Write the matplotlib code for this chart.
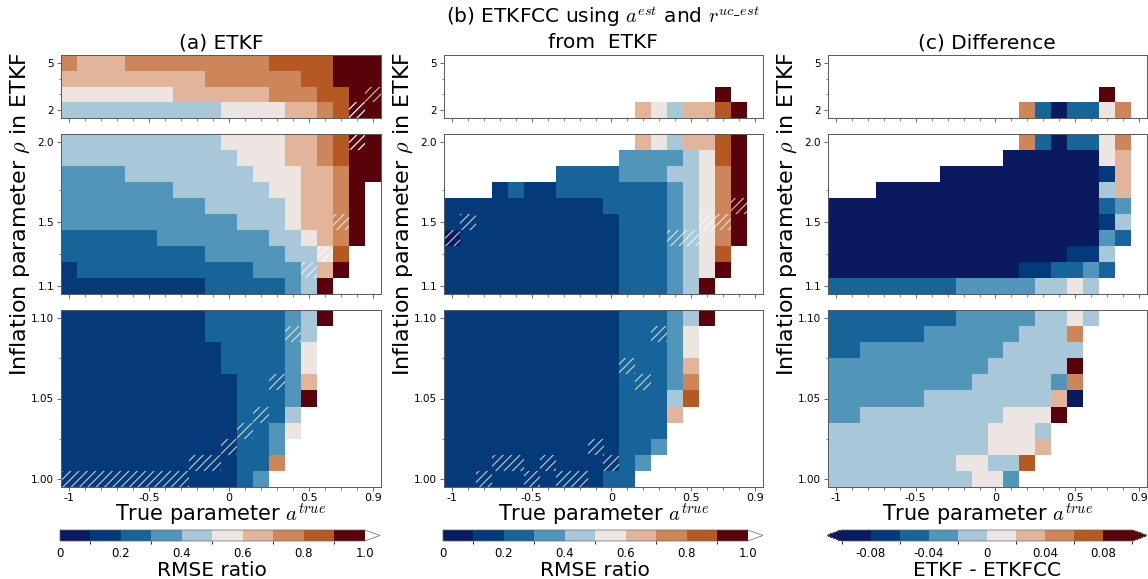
import numpy as np
import matplotlib
matplotlib.use("Agg")
import matplotlib.pyplot as plt
from matplotlib.colors import ListedColormap, BoundaryNorm
from matplotlib.patches import Rectangle

plt.rcParams["mathtext.fontset"] = "cm"
plt.rcParams["hatch.linewidth"] = 0.8
plt.rcParams["font.size"] = 7.5

# grid of the experiments
a_true = [-1.0, -0.9, -0.8, -0.7, -0.6, -0.5, -0.4, -0.3, -0.2, -0.1,
          0.0, 0.1, 0.2, 0.3, 0.4, 0.5, 0.6, 0.7, 0.8, 0.9]
rho_top = [2, 3, 4, 5]
rho_mid = [1.1, 1.2, 1.3, 1.4, 1.5, 1.6, 1.7, 1.8, 1.9, 2.0]
rho_bot = [1.00, 1.01, 1.02, 1.03, 1.04, 1.05, 1.06, 1.07, 1.08, 1.09, 1.10]

# one character per a_true: colour class of the cell, "." = no value
# rows are listed from the largest rho down
ratio_centres = [0.05, 0.15, 0.25, 0.35, 0.45, 0.55, 0.65, 0.75, 0.85, 0.95]
diff_centres = [-0.09, -0.07, -0.05, -0.03, -0.01, 0.01, 0.03, 0.05, 0.07, 0.09]

etkf_top = [
    "76667777777778888999",
    "66666666677777788999",
    "55555556666667778899",
    "44444444445555667899",
]
etkf_mid = [
    "44444444445555667899",
    "44444444444555667899",
    "33334444444455566799",
    "3333333444444556679.",
    "3333333334444456679.",
    "3333333333344456679.",
    "2222223333333445679.",
    "222222222333334458..",
    "122222222222333469..",
    "11111111122222349...",
]
etkf_bot = [
    "11111111122222349...",
    "1111111112222234....",
    "1111111111222235....",
    "1111111111222235....",
    "1111111111122236....",
    "1111111111122239....",
    "111111111112224.....",
    "111111111112235.....",
    "11111111111223......",
    "11111111111227......",
    "1111111111123.......",
]

etkfcc_top = [
    "....................",
    "....................",
    ".................9..",
    "............6546689.",
]
etkfcc_mid = [
    "............6546689.",
    "...........33334589.",
    ".......222233344579.",
    "...1211222222234579.",
    "1111111111222234579.",
    "1111111111122234579.",
    "0111111111122234579.",
    "111111111112223458..",
    "111111111112223459..",
    "11111111111222349...",
]
etkfcc_bot = [
    "11111111111222349...",
    "1111111111122235....",
    "1111111111122235....",
    "1111111111122236....",
    "1111111111122237....",
    "1111111111122248....",
    "111111111112226.....",
    "11111111111222......",
    "11111111111223......",
    "1111111111123.......",
    "111111111122........",
]

diff_top = [
    "....................",
    "....................",
    ".................9..",
    "............7202257.",
]
diff_mid = [
    "............7202257.",
    "...........00000056.",
    ".......000000000016.",
    "...0000000000000046.",
    "0000000000000000023.",
    "0000000000000000014.",
    "0000000000000000032.",
    "000000000000000114..",
    "000000000000112232..",
    "22222222333334454...",
]
diff_bot = [
    "22222222333334454...",
    "2222223333334447....",
    "2233333333344444....",
    "3333333333444449....",
    "3333333334444437....",
    "3333334444444460....",
    "334444444445559.....",
    "44444444445554......",
    "44444444445556......",
    "4444444455448.......",
    "444444444553........",
]

# cells flagged with hatching, as (a_true, rho)
etkf_hatch = [(0.9, 3), (0.8, 2), (0.8, 2.0), (0.7, 1.5), (0.6, 1.3), (0.5, 1.2),
              (0.4, 1.09), (0.3, 1.06), (0.2, 1.04), (0.1, 1.03), (0.0, 1.02),
              (-0.2, 1.01), (-0.1, 1.01),
              (-1.0, 1.00), (-0.9, 1.00), (-0.8, 1.00), (-0.7, 1.00),
              (-0.6, 1.00), (-0.5, 1.00), (-0.4, 1.00), (-0.3, 1.00)]
etkfcc_hatch = [(0.8, 1.6), (-0.9, 1.5), (0.6, 1.5), (0.7, 1.5), (-1.0, 1.4),
                (0.4, 1.4), (0.5, 1.4), (0.3, 1.09), (0.1, 1.07), (0.2, 1.06),
                (-0.1, 1.02), (-0.7, 1.01), (-0.6, 1.01), (-0.4, 1.01), (0.0, 1.01),
                (-0.8, 1.00), (-0.5, 1.00), (-0.3, 1.00), (-0.2, 1.00)]
diff_hatch = []

class_colors = ["#0a1a5e", "#043a7a", "#16649a", "#5295bb", "#a8c8da",
                "#ede5e1", "#e2b59b", "#cc8659", "#b65822", "#5a020a"]

ratio_cmap = ListedColormap(class_colors)
ratio_cmap.set_over("white")
ratio_cmap.set_bad("white")
ratio_norm = BoundaryNorm([0, 0.1, 0.2, 0.3, 0.4, 0.5, 0.6, 0.7, 0.8, 0.9, 1.0], 10)

diff_cmap = ListedColormap(class_colors)
diff_cmap.set_under(class_colors[0])
diff_cmap.set_over(class_colors[-1])
diff_norm = BoundaryNorm([-0.1, -0.08, -0.06, -0.04, -0.02, 0, 0.02, 0.04, 0.06, 0.08, 0.1], 10)


def decode(rows, centres):
    """Class strings (top row first) -> array with row 0 at the smallest rho."""
    return np.array([[np.nan if ch == "." else centres[int(ch)] for ch in r]
                     for r in rows[::-1]])


W, H = 1148, 579
fig = plt.figure(figsize=(W / 100, H / 100), dpi=100)


def px_axes(x0, y0, x1, y1):
    return fig.add_axes([x0 / W, 1 - y1 / H, (x1 - x0) / W, (y1 - y0) / H])


# (rho values, y limits, major ticks, labels, minor ticks, cell height, pixel rows)
bands = [
    (rho_top, (1.5, 5.5), [2, 5], ["2", "5"], [3, 4], 1.0, (55, 118)),
    (rho_mid, (1.05, 2.05), [1.1, 1.5, 2.0], ["1.1", "1.5", "2.0"], [1.3, 1.7], 0.1, (134, 294)),
    (rho_bot, (0.995, 1.105), [1.0, 1.05, 1.1], ["1.00", "1.05", "1.10"], [1.025, 1.075], 0.01, (310, 487)),
]

columns = [
    ((61, 381), [etkf_top, etkf_mid, etkf_bot], etkf_hatch, ratio_centres, ratio_cmap, ratio_norm),
    ((444, 763), [etkfcc_top, etkfcc_mid, etkfcc_bot], etkfcc_hatch, ratio_centres, ratio_cmap, ratio_norm),
    ((828, 1147), [diff_top, diff_mid, diff_bot], diff_hatch, diff_centres, diff_cmap, diff_norm),
]

meshes = []
for (x0, x1), rows_list, hatched, centres, cmap, norm in columns:
    for k, (rho, ylim, yt, ytl, ymin, dy, (y0, y1)) in enumerate(bands):
        ax = px_axes(x0, y0, x1, y1)
        Z = decode(rows_list[k], centres)
        mesh = ax.pcolormesh(a_true, rho, Z, cmap=cmap, norm=norm, shading="nearest")
        for a, r in hatched:
            # only the cells that belong to this rho band
            if not np.isclose(rho, r).any():
                continue
            ax.add_patch(Rectangle((a - 0.05, r - dy / 2), 0.1, dy, fill=False,
                                   hatch="////", edgecolor=(1, 1, 1, 0.75), lw=0))
        ax.set_xlim(-1.05, 0.95)
        ax.set_ylim(*ylim)
        ax.set_yticks(yt)
        ax.set_yticklabels(ytl)
        ax.set_yticks(ymin, minor=True)
        ax.set_xticks([-1, -0.5, 0, 0.5, 0.9])
        ax.set_xticks(a_true, minor=True)
        ax.tick_params(which="major", length=3, width=0.6, color="0.3", pad=2, labelsize=7.5)
        ax.tick_params(axis="x", pad=1, labelsize=8)
        ax.tick_params(which="minor", length=1.8, width=0.5, color="0.3")
        for s in ax.spines.values():
            s.set_color("0.35")
            s.set_linewidth(0.7)
        if k == 2:
            ax.set_xticklabels(["-1", "-0.5", "0", "0.5", "0.9"])
            ax.set_xlabel("True parameter $a^{true}$", fontsize=15, labelpad=-1)
        else:
            ax.set_xticklabels([])
        if k == 1:
            ax.set_ylabel(r"Inflation parameter $\rho$ in ETKF", fontsize=16, labelpad=4)
    meshes.append(mesh)

# colour bars
cbar_specs = [
    ((60, 380), meshes[0], "max", [0, 0.2, 0.4, 0.6, 0.8, 1.0], ["0", "0.2", "0.4", "0.6", "0.8", "1.0"], "RMSE ratio"),
    ((443, 763), meshes[1], "max", [0, 0.2, 0.4, 0.6, 0.8, 1.0], ["0", "0.2", "0.4", "0.6", "0.8", "1.0"], "RMSE ratio"),
    ((827, 1147), meshes[2], "both", [-0.08, -0.04, 0, 0.04, 0.08], ["-0.08", "-0.04", "0", "0.04", "0.08"], "ETKF - ETKFCC"),
]
for (x0, x1), mesh, ext, ticks, labels, title in cbar_specs:
    cax = px_axes(x0, 530, x1, 541)
    cb = fig.colorbar(mesh, cax=cax, orientation="horizontal", extend=ext, extendfrac=0.05)
    cb.set_ticks(ticks)
    cb.set_ticklabels(labels)
    cb.ax.tick_params(length=0, pad=4, labelsize=8.5)
    cb.outline.set_linewidth(0.5)
    cb.outline.set_edgecolor("0.4")
    cb.set_label(title, fontsize=14.5, labelpad=1)

fig.text(221 / W, 1 - 43 / H, "(a) ETKF", ha="center", va="center", fontsize=14.5)
fig.text(603 / W, 1 - 17 / H, "(b) ETKFCC using $a^{est}$ and $r^{uc\\_est}$",
         ha="center", va="center", fontsize=14.5)
fig.text(603 / W, 1 - 43 / H, "from  ETKF", ha="center", va="center", fontsize=14.5)
fig.text(987 / W, 1 - 43 / H, "(c) Difference", ha="center", va="center", fontsize=14.5)

fig.savefig("out.png", dpi=100)
